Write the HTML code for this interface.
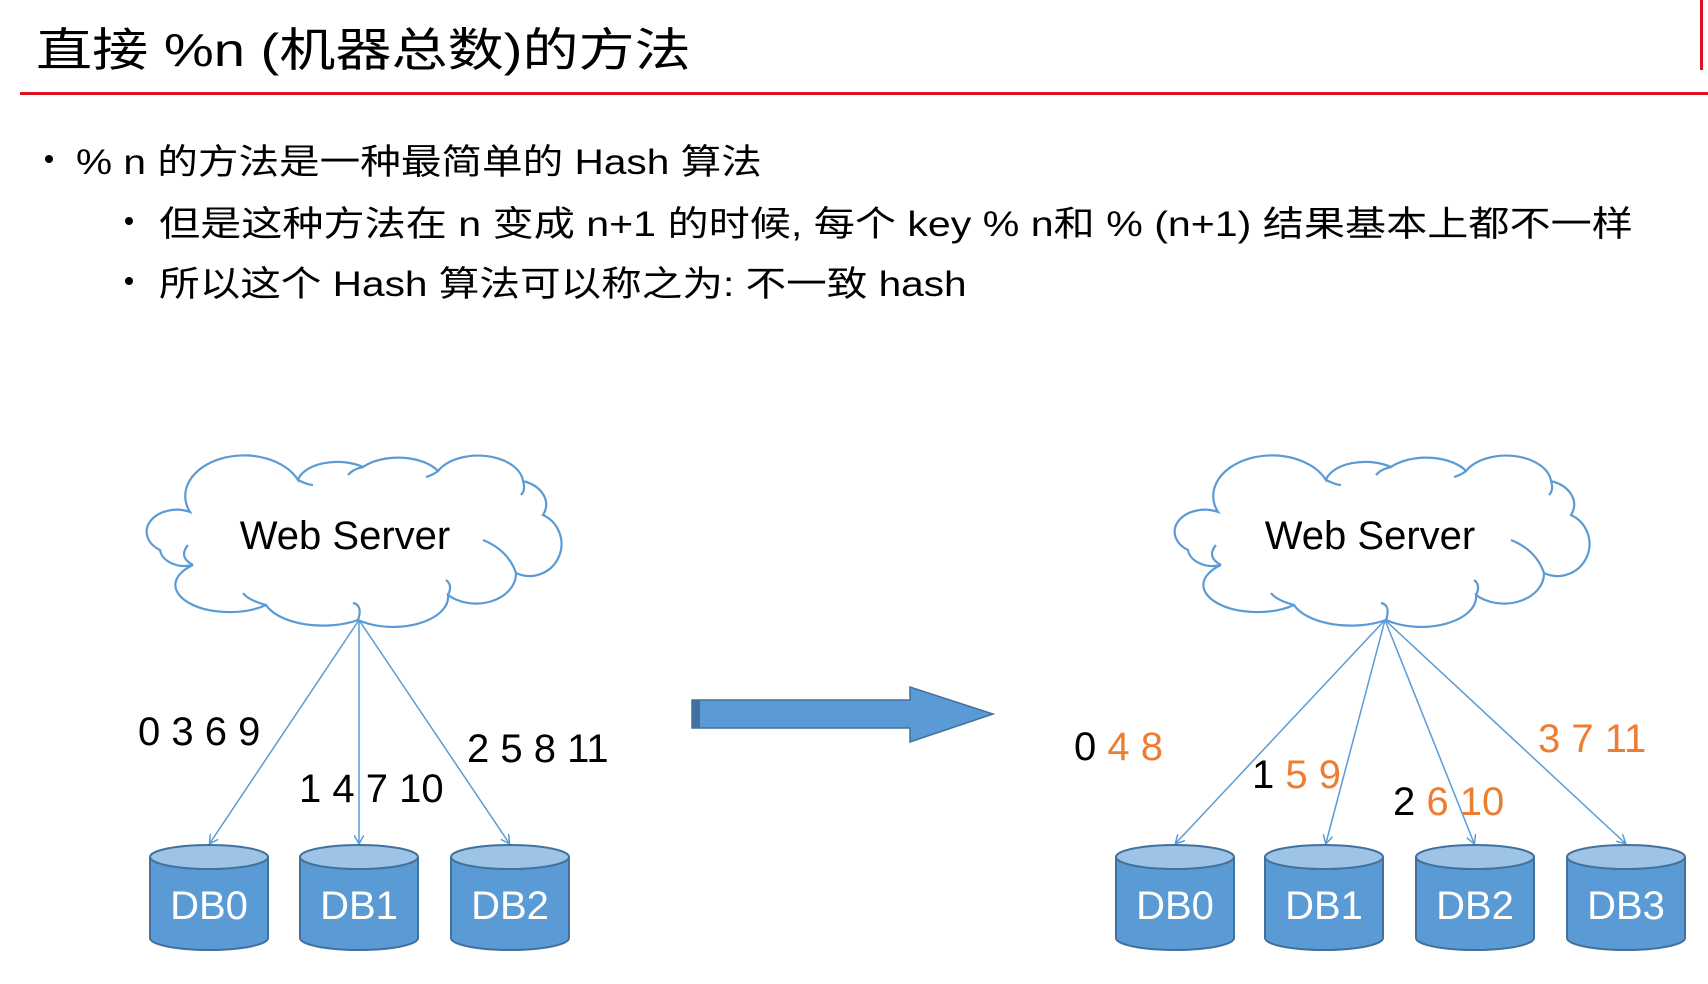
<!DOCTYPE html>
<html><head><meta charset="utf-8"><style>
body{margin:0;width:1708px;height:984px;background:#fff;overflow:hidden;position:relative;font-family:"Liberation Sans","Noto Sans CJK SC",sans-serif;}
.t{position:absolute;white-space:nowrap;color:#000;}
.s{transform:scaleX(1.16);transform-origin:0 0;}
.d{position:absolute;width:8px;height:8px;border-radius:50%;background:#000;}
</style></head><body>
<div class="t" style="left:36px;top:14px;font-size:46px;transform:scaleX(1.22);transform-origin:0 0;">直接 %n (机器总数)的方法</div>
<div style="position:absolute;left:20px;top:92px;width:1688px;height:3px;background:#d9141e;"></div>
<div style="position:absolute;left:1700px;top:0;width:3px;height:70px;background:#d9141e;"></div>
<div class="d" style="left:45px;top:155px;"></div>
<div class="t s" style="left:76px;top:134px;font-size:35px;">% n 的方法是一种最简单的 Hash 算法</div>
<div class="d" style="left:125px;top:217px;"></div>
<div class="t" style="left:159px;top:196px;font-size:35px;transform:scaleX(1.175);transform-origin:0 0;">但是这种方法在 n 变成 n+1 的时候, 每个 key % n和 % (n+1) 结果基本上都不一样</div>
<div class="d" style="left:125px;top:277px;"></div>
<div class="t s" style="left:159px;top:256px;font-size:35px;">所以这个 Hash 算法可以称之为: 不一致 hash</div>

<svg width="1708" height="984" style="position:absolute;left:0;top:0" xmlns="http://www.w3.org/2000/svg">
<defs>
<marker id="ah" markerWidth="10" markerHeight="10" refX="8" refY="5" orient="auto" markerUnits="userSpaceOnUse">
<path d="M0,0 L9,5 L0,10" fill="none" stroke="#5b9bd5" stroke-width="1.5"/></marker>
<g id="cloud">
<path d="M12,95 A30,22 0 0 1 42,57 A55,38 0 0 1 150,25 A40,22 0 0 1 215,12 A45,25 0 0 1 290,16 A45,28 0 0 1 375,26 A35,25 0 0 1 395,60 A30,30 0 0 1 368,118 A40,30 0 0 1 300,140 A55,30 0 0 1 210,165 A60,30 0 0 1 118,150 A50,25 0 0 1 45,110 A25,18 0 0 1 12,95 Z" fill="#fff" stroke="#5b9bd5" stroke-width="2.2"/>
<path d="M45,110 Q30,102 40,90 M118,150 Q100,145 95,138 M210,165 Q215,150 205,148 M300,140 Q305,130 298,125 M368,118 Q360,95 335,85 M375,26 Q378,35 373,40 M290,16 Q285,20 278,22 M215,12 Q205,14 200,20 M150,25 Q160,30 165,30" fill="none" stroke="#5b9bd5" stroke-width="2.2"/>
</g>
<g id="db">
<path d="M0,12 L0,93 A59,12 0 0 0 118,93 L118,12" fill="#5b9bd5" stroke="#41719c" stroke-width="2"/>
<ellipse cx="59" cy="12" rx="59" ry="12" fill="#9dc3e6" stroke="#41719c" stroke-width="2"/>
</g>
</defs>
<use href="#cloud" x="148" y="455"/>
<use href="#cloud" x="1176" y="455"/>
<g stroke="#5b9bd5" stroke-width="1.5" marker-end="url(#ah)">
<line x1="359" y1="620" x2="210" y2="843"/>
<line x1="359" y1="620" x2="359" y2="843"/>
<line x1="359" y1="620" x2="509" y2="843"/>
<line x1="1385" y1="620" x2="1176" y2="843"/>
<line x1="1385" y1="620" x2="1326" y2="843"/>
<line x1="1385" y1="620" x2="1474" y2="843"/>
<line x1="1385" y1="620" x2="1625" y2="843"/>
</g>
<use href="#db" x="150" y="845"/><use href="#db" x="300" y="845"/><use href="#db" x="451" y="845"/>
<use href="#db" x="1116" y="845"/><use href="#db" x="1265" y="845"/><use href="#db" x="1416" y="845"/><use href="#db" x="1567" y="845"/>
<path d="M692,700 L910,700 L910,687 L993,714 L910,742 L910,728 L692,728 Z" fill="#5b9bd5" stroke="#41719c" stroke-width="1.5"/>
<rect x="692" y="700" width="8" height="28" fill="#41719c"/>
<g font-family="Liberation Sans, sans-serif" font-size="40">
<text x="345" y="549" text-anchor="middle">Web Server</text>
<text x="1370" y="549" text-anchor="middle">Web Server</text>
<text x="138" y="745">0 3 6 9</text>
<text x="299" y="802">1 4 7 10</text>
<text x="467" y="762">2 5 8 11</text>
<text x="1074" y="760">0 <tspan fill="#ed7d31">4 8</tspan></text>
<text x="1252" y="788">1 <tspan fill="#ed7d31">5 9</tspan></text>
<text x="1393" y="815">2 <tspan fill="#ed7d31">6 10</tspan></text>
<text x="1538" y="752" fill="#ed7d31">3 7 11</text>
<g fill="#fff" text-anchor="middle">
<text x="209" y="919">DB0</text><text x="359" y="919">DB1</text><text x="510" y="919">DB2</text>
<text x="1175" y="919">DB0</text><text x="1324" y="919">DB1</text><text x="1475" y="919">DB2</text><text x="1626" y="919">DB3</text>
</g></g>
</svg>
</body></html>
